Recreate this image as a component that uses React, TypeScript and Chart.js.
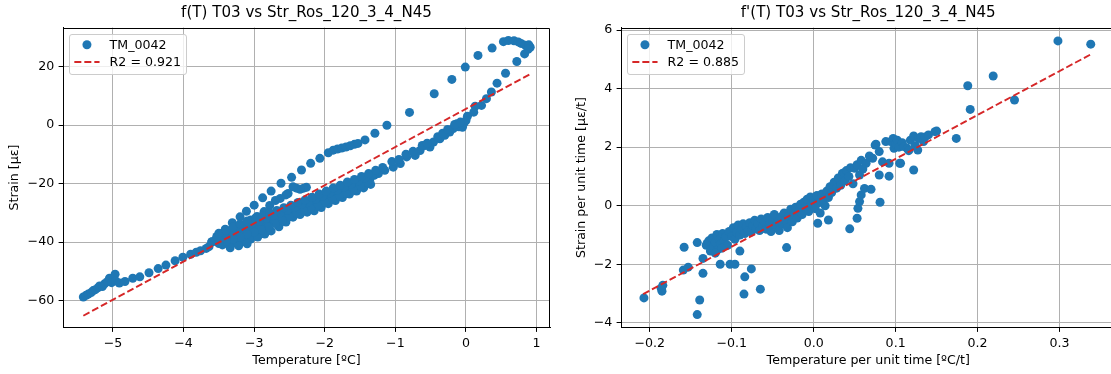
import React, { useEffect, useRef } from 'react';
import { Chart, registerables } from 'chart.js';

Chart.register(...registerables);

type Pt = [number, number];

// ---------------- Left panel data: Temperature [ºC] vs Strain [με] ----------------
const leftLowTail: Pt[] = [
  [-5.42, -58.8], [-5.38, -58.2], [-5.35, -57.8], [-5.31, -57.3], [-5.28, -56.6], [-5.25, -56.3],
  [-5.21, -55.6], [-5.19, -55.0], [-5.15, -55.2], [-5.12, -54.3], [-5.08, -53.6], [-5.05, -52.4],
  [-4.97, -51.0], [-5.02, -53.9], [-4.96, -53.3], [-4.91, -54.0], [-4.83, -53.5], [-4.72, -52.4],
  [-4.62, -51.9], [-4.49, -50.5], [-4.36, -49.1], [-4.25, -47.9], [-4.12, -46.4], [-4.01, -45.2],
  [-3.90, -44.2], [-3.82, -43.5], [-3.76, -43.0], [-3.68, -42.2], [-3.64, -41.6],
];
const leftOuterBranch: Pt[] = [
  [-3.60, -40.0], [-3.51, -38.2], [-3.41, -35.6], [-3.31, -33.4], [-3.20, -31.4], [-3.11, -29.5],
  [-3.00, -27.4], [-2.88, -24.9], [-2.76, -22.6], [-2.62, -19.9], [-2.47, -17.9], [-2.33, -15.4],
  [-2.20, -13.1], [-2.07, -11.4], [-1.95, -9.5], [-1.88, -8.6], [-1.82, -8.2], [-1.76, -7.9],
  [-1.70, -7.5], [-1.64, -7.1], [-1.58, -6.6], [-1.53, -6.3], [-1.43, -5.1], [-1.29, -2.8],
  [-1.12, -0.1], [-0.80, 4.3], [-0.45, 10.7], [-0.20, 15.6], [-0.01, 19.8], [0.17, 23.8],
  [0.37, 26.3], [0.53, 28.5], [0.60, 28.9], [0.68, 28.8], [0.74, 28.4], [0.78, 27.9],
  [0.84, 27.3], [0.89, 27.4], [0.91, 26.6], [0.88, 25.9], [0.83, 24.3], [0.72, 21.7],
];
const leftInnerBranch: Pt[] = [
  [-2.26, -21.3], [-2.30, -21.6], [-2.35, -22.0], [-2.40, -21.6], [-2.45, -21.1], [-2.52, -23.4],
  [-2.55, -23.9], [-2.63, -25.1], [-2.70, -25.8], [-2.78, -27.5], [-2.86, -29.6], [-2.96, -31.3],
  [-3.05, -32.5],
];
const leftReturnBand: Pt[] = [
  [0.56, 17.7], [0.44, 14.3], [0.36, 11.3], [0.29, 9.0], [0.22, 6.7], [0.13, 6.4], [0.11, 4.4],
  [0.02, 3.0], [0.00, 1.5], [-0.03, 0.6], [-0.05, -0.8], [-0.10, -0.6], [-0.13, 0.4], [-0.18, -1.2],
  [-0.23, -2.4], [-0.30, -3.5], [-0.37, -4.7], [-0.46, -5.8], [-0.51, -7.5], [-0.58, -7.0],
  [-0.65, -8.7], [-0.72, -10.4], [-0.84, -10.9], [-0.93, -13.2], [-1.03, -14.4], [-1.15, -15.5],
  [-1.24, -16.6], [-1.30, -17.2], [-1.36, -18.4], [-1.42, -18.6], [-1.48, -19.5], [-1.55, -20.2],
  [-1.60, -21.0], [-1.66, -21.3], [-1.71, -22.3], [-1.77, -22.8], [-1.83, -23.5], [-1.90, -23.6],
  [-1.95, -24.0], [-2.02, -25.0], [-2.08, -25.5], [-2.14, -26.2], [-2.19, -26.8], [-2.25, -27.3],
  [-2.31, -28.0], [-2.37, -28.6], [-2.42, -29.1], [-2.48, -29.6], [-2.54, -30.2], [-2.60, -30.7],
  [-2.66, -31.3], [-2.72, -31.9], [-2.78, -32.5], [-2.84, -33.1], [-2.89, -33.6], [-2.95, -34.1],
  [-3.01, -34.5], [-3.07, -35.0], [-3.13, -35.3], [-3.19, -36.0], [-3.25, -36.7], [-3.31, -37.1],
  [-3.37, -37.6], [-3.43, -38.3], [-3.49, -39.0], [-3.55, -39.4], [-3.60, -39.9],
];
const leftBandLower: Pt[] = [
  [-3.45, -41.0], [-3.36, -40.8], [-3.25, -40.4], [-3.15, -39.8], [-3.05, -39.0], [-2.95, -38.3],
  [-2.85, -37.3], [-2.76, -36.2], [-2.65, -34.8], [-2.55, -33.2], [-2.45, -31.5], [-2.35, -30.6],
  [-2.25, -29.8], [-2.15, -29.3], [-2.05, -28.2], [-1.95, -26.9], [-1.85, -25.8], [-1.75, -24.8],
  [-1.65, -23.6], [-1.55, -22.6], [-1.45, -21.5], [-1.35, -20.3], [-3.34, -42.0], [-3.22, -41.3],
  [-3.10, -40.6],
];
const leftBandMidLower: Pt[] = [
  [-1.40, -19.6], [-1.50, -20.9], [-1.60, -22.2], [-1.70, -23.4], [-1.80, -24.5], [-1.90, -25.4],
  [-2.00, -26.4], [-2.10, -27.6], [-2.20, -28.5], [-2.30, -29.3], [-2.40, -30.2], [-2.50, -31.4],
  [-2.60, -32.6], [-2.70, -33.7], [-2.80, -34.8], [-2.90, -35.8], [-3.00, -36.6], [-3.10, -37.4],
  [-3.20, -38.3], [-3.30, -39.0], [-3.40, -39.8], [-3.50, -40.5],
];
const leftBandMidUpper: Pt[] = [
  [-1.33, -17.0], [-1.43, -18.0], [-1.53, -19.2], [-1.63, -20.2], [-1.73, -21.3], [-1.83, -22.4],
  [-1.93, -23.2], [-2.03, -24.3], [-2.13, -25.4], [-2.23, -26.3], [-2.33, -27.2], [-2.43, -28.2],
  [-2.53, -29.1], [-2.63, -30.0], [-2.73, -30.9], [-2.83, -31.9], [-2.93, -32.9], [-3.03, -33.6],
  [-3.13, -34.4], [-3.23, -35.3], [-3.33, -36.2], [-3.43, -37.0], [-3.53, -38.1],
];
const leftBandUpper: Pt[] = [
  [-3.50, -37.0], [-3.40, -36.0], [-3.30, -34.9], [-3.20, -33.8], [-3.10, -32.8], [-2.98, -31.8],
  [-2.88, -31.0], [-2.78, -30.0], [-2.68, -29.2], [-2.58, -28.3], [-2.48, -27.4], [-2.38, -26.5],
  [-2.28, -25.6], [-2.18, -24.7], [-2.08, -23.6], [-1.98, -22.6], [-1.88, -21.5], [-1.78, -20.6],
  [-1.68, -19.5], [-1.58, -18.6], [-1.48, -17.6], [-1.38, -16.6], [-1.28, -15.5], [-1.18, -14.5],
  [-1.05, -12.5], [-0.95, -11.8], [-0.85, -10.0], [-0.75, -9.0], [-0.62, -7.0], [-0.55, -6.2],
  [-0.40, -4.0], [-0.33, -2.8], [-0.26, -1.5], [-0.16, 0.2], [-0.08, 1.0],
];
const leftFitTemperature = [-5.42, 0.91];
const leftFitStrain = [-65.2, 17.4];
const leftXTicks = [-5, -4, -3, -2, -1, 0, 1];
const leftYTicks = [-60, -40, -20, 0, 20];

// ---------------- Right panel data: rates ----------------
const rightOutliers: Pt[] = [
  [-0.207, -3.15], [-0.186, -2.82], [-0.185, -2.92], [-0.184, -2.72], [-0.158, -1.42], [-0.159, -2.20],
  [-0.153, -2.10], [-0.142, -1.26], [-0.139, -3.22], [-0.142, -3.72], [-0.135, -2.31], [-0.135, -1.80],
  [-0.130, -1.29], [-0.124, -1.48], [-0.114, -2.0], [-0.102, -2.0], [-0.096, -2.0], [-0.090, -1.55],
  [-0.084, -2.43], [-0.076, -2.16], [-0.085, -3.02], [-0.065, -2.85], [-0.033, -1.43], [0.005, -0.60],
  [0.018, -0.49], [0.044, -0.79], [0.053, -0.43], [0.054, -0.09], [0.056, 0.14], [0.058, 0.37],
  [0.062, 0.59], [0.070, 0.56], [0.081, 0.12], [0.080, 1.05], [0.092, 1.01], [0.105, 1.45],
  [0.122, 1.22], [0.150, 2.55], [0.174, 2.30], [0.188, 4.10], [0.191, 3.29], [0.219, 4.43],
  [0.245, 3.61], [0.298, 5.63], [0.338, 5.52],
];
const rightClusterA: Pt[] = [
  [-0.131, -1.35], [-0.128, -1.20], [-0.126, -1.55], [-0.124, -1.10], [-0.122, -1.40], [-0.120, -1.25],
  [-0.118, -0.98], [-0.117, -1.50], [-0.115, -1.15], [-0.113, -1.30], [-0.111, -0.95], [-0.109, -1.20],
  [-0.107, -1.05], [-0.105, -1.35], [-0.120, -1.62], [-0.112, -1.45],
];
const rightClusterB: Pt[] = [
  [-0.103, -0.88], [-0.100, -1.05], [-0.098, -0.75], [-0.096, -1.15], [-0.094, -0.90], [-0.092, -0.66],
  [-0.090, -1.00], [-0.088, -0.80], [-0.086, -0.62], [-0.084, -0.95], [-0.082, -0.72], [-0.080, -0.85],
  [-0.078, -0.58], [-0.076, -0.90], [-0.074, -0.68], [-0.072, -0.50], [-0.070, -0.78], [-0.068, -0.60],
  [-0.066, -0.85], [-0.064, -0.45], [-0.062, -0.70],
];
const rightClusterC: Pt[] = [
  [-0.060, -0.55], [-0.058, -0.80], [-0.056, -0.40], [-0.054, -0.65], [-0.052, -0.88], [-0.050, -0.48],
  [-0.048, -0.30], [-0.046, -0.70], [-0.044, -0.55], [-0.042, -0.85], [-0.040, -0.38], [-0.038, -0.62],
  [-0.036, -0.25], [-0.034, -0.50], [-0.032, -0.75], [-0.030, -0.35], [-0.028, -0.12], [-0.026, -0.55],
  [-0.024, -0.30], [-0.022, -0.05], [-0.020, -0.42],
];
const rightClusterD: Pt[] = [
  [-0.018, -0.18], [-0.016, 0.05], [-0.014, -0.30], [-0.012, 0.12], [-0.010, -0.08], [-0.008, 0.22],
  [-0.006, -0.20], [-0.004, 0.30], [-0.002, 0.05], [0.000, 0.18], [0.002, -0.10], [0.004, 0.35],
  [0.006, 0.10], [0.008, -0.25], [0.010, 0.40], [0.012, 0.20], [0.014, 0.00], [0.016, 0.50],
  [0.018, 0.28], [0.020, 0.65],
];
const rightClusterE: Pt[] = [
  [0.022, 0.45], [0.024, 0.71], [0.025, 0.80], [0.028, 0.60], [0.030, 0.95], [0.033, 0.70],
  [0.035, 1.10], [0.037, 1.13], [0.038, 0.85], [0.040, 1.20], [0.043, 1.00], [0.045, 1.30],
  [0.048, 0.75], [0.050, 1.28], [0.053, 1.40], [0.056, 1.05], [0.058, 1.55], [0.060, 1.25],
];
const rightClusterF: Pt[] = [
  [0.064, 1.45], [0.068, 1.70], [0.072, 1.62], [0.075, 2.07], [0.076, 2.10], [0.080, 1.85],
  [0.084, 1.50], [0.088, 2.19], [0.092, 1.45], [0.094, 2.19], [0.097, 2.30], [0.098, 1.96],
  [0.100, 2.10], [0.102, 2.24], [0.104, 2.00], [0.106, 1.45], [0.108, 2.15], [0.110, 2.02],
  [0.114, 1.96], [0.116, 1.88], [0.118, 2.24], [0.122, 2.38], [0.124, 2.05], [0.127, 1.90],
  [0.128, 2.30], [0.131, 2.36], [0.134, 2.19], [0.136, 2.35], [0.140, 2.42], [0.148, 2.53],
];
const rightFitRate = [-0.208, 0.338];
const rightFitStrainRate = [-3.02, 5.17];
const rightXTicks = [-0.2, -0.1, 0.0, 0.1, 0.2, 0.3];
const rightYTicks = [-4, -2, 0, 2, 4, 6];

// ---------------- styling ----------------
const FONT_FAMILY = "'DejaVu Sans', sans-serif";
const BLUE = '#1f77b4';
const RED = '#d62728';
const GRID = '#b0b0b0';
const FS_SMALL = 12.6;
const FS_TITLE = 15.1;
const H = 374;
const DOT_R = 4.5;

function fmtTick(v: number, decimals: number): string {
  const s = Math.abs(v).toFixed(decimals);
  return (v < -1e-9 ? '\u2212' : '') + s;
}

interface PanelSpec {
  title: string;
  xLabel: string;
  yLabel: string;
  points: Pt[];
  fitX: number[];
  fitY: number[];
  seriesName: string;
  fitName: string;
  xTicks: number[];
  yTicks: number[];
  xDecimals: number;
  yDecimals: number;
  xMin: number;
  xMax: number;
  yMin: number;
  yMax: number;
  canvasLeft: number;
  canvasWidth: number;
  yAxisWidth: number;
  yTitlePad: number;
  padRight: number;
}

const panels: PanelSpec[] = [
  {
    title: 'f(T) T03 vs Str_Ros_120_3_4_N45',
    xLabel: 'Temperature [ºC]',
    yLabel: 'Strain [με]',
    points: [
      ...leftLowTail, ...leftOuterBranch, ...leftInnerBranch, ...leftReturnBand,
      ...leftBandLower, ...leftBandMidLower, ...leftBandMidUpper, ...leftBandUpper,
    ],
    fitX: leftFitTemperature,
    fitY: leftFitStrain,
    seriesName: 'TM_0042',
    fitName: 'R2 = 0.921',
    xTicks: leftXTicks,
    yTicks: leftYTicks,
    xDecimals: 0,
    yDecimals: 0,
    xMin: -5.708,
    xMax: 1.19,
    yMin: -69.23,
    yMax: 33.33,
    canvasLeft: 0,
    canvasWidth: 555,
    yAxisWidth: 63,
    yTitlePad: 6.7,
    padRight: 5,
  },
  {
    title: "f'(T) T03 vs Str_Ros_120_3_4_N45",
    xLabel: 'Temperature per unit time [ºC/t]',
    yLabel: 'Strain per unit time [με/t]',
    points: [
      ...rightOutliers, ...rightClusterA, ...rightClusterB, ...rightClusterC,
      ...rightClusterD, ...rightClusterE, ...rightClusterF,
    ],
    fitX: rightFitRate,
    fitY: rightFitStrainRate,
    seriesName: 'TM_0042',
    fitName: 'R2 = 0.885',
    xTicks: rightXTicks,
    yTicks: rightYTicks,
    xDecimals: 1,
    yDecimals: 0,
    xMin: -0.235,
    xMax: 0.3682,
    yMin: -4.161,
    yMax: 6.088,
    canvasLeft: 555,
    canvasWidth: 565,
    yAxisWidth: 66,
    yTitlePad: 19.0,
    padRight: 0,
  },
];

function makeSpinePlugin() {
  return {
    id: 'mplSpines',
    afterDatasetsDraw(chart: any) {
      const { ctx, chartArea: a } = chart;
      ctx.save();
      ctx.strokeStyle = '#000';
      ctx.lineWidth = 1;
      const t = Math.round(a.top) + 0.5;
      const r = Math.round(a.right) - 0.5;
      const l = Math.round(a.left) + 0.5;
      const b = Math.round(a.bottom) - 0.5;
      ctx.beginPath();
      ctx.moveTo(l, t);
      ctx.lineTo(r, t);
      ctx.lineTo(r, b);
      ctx.stroke();
      ctx.restore();
    },
  };
}

function makeLegendPlugin(spec: PanelSpec) {
  return {
    id: 'mplLegend',
    afterDraw(chart: any) {
      const { ctx, chartArea: a } = chart;
      const fs = FS_SMALL;
      const labels = [spec.seriesName, spec.fitName];
      ctx.save();
      ctx.font = `${fs}px ${FONT_FAMILY}`;
      const textW = Math.max(...labels.map((l) => ctx.measureText(l).width));
      const pad = 0.4 * fs;
      const handleLen = 2 * fs;
      const textPad = 0.8 * fs;
      const x0 = Math.round(a.left + 0.5 * fs) + 0.5;
      const y0 = Math.round(a.top + 0.5 * fs) + 0.5;
      const w = Math.round(pad + handleLen + textPad + textW + pad);
      const h = 40;
      const rr = 2.5;
      ctx.beginPath();
      ctx.moveTo(x0 + rr, y0);
      ctx.lineTo(x0 + w - rr, y0);
      ctx.arcTo(x0 + w, y0, x0 + w, y0 + rr, rr);
      ctx.lineTo(x0 + w, y0 + h - rr);
      ctx.arcTo(x0 + w, y0 + h, x0 + w - rr, y0 + h, rr);
      ctx.lineTo(x0 + rr, y0 + h);
      ctx.arcTo(x0, y0 + h, x0, y0 + h - rr, rr);
      ctx.lineTo(x0, y0 + rr);
      ctx.arcTo(x0, y0, x0 + rr, y0, rr);
      ctx.closePath();
      ctx.fillStyle = 'rgba(255,255,255,0.8)';
      ctx.fill();
      ctx.strokeStyle = '#cccccc';
      ctx.lineWidth = 1;
      ctx.stroke();

      const row1 = a.top + 17.2;
      const row2 = a.top + 34.5;
      const hx = a.left + 0.5 * fs + pad;
      // marker
      ctx.beginPath();
      ctx.arc(hx + handleLen / 2, row1, DOT_R, 0, Math.PI * 2);
      ctx.fillStyle = BLUE;
      ctx.fill();
      // dashed line
      ctx.beginPath();
      ctx.setLineDash([7, 3]);
      ctx.strokeStyle = RED;
      ctx.lineWidth = 1.9;
      ctx.moveTo(hx, row2);
      ctx.lineTo(hx + handleLen, row2);
      ctx.stroke();
      ctx.setLineDash([]);
      // text
      ctx.fillStyle = '#000';
      ctx.textAlign = 'left';
      ctx.textBaseline = 'middle';
      const tx = hx + handleLen + textPad;
      ctx.fillText(labels[0], tx, row1 + 0.5);
      ctx.fillText(labels[1], tx, row2 + 0.5);
      ctx.restore();
    },
  };
}

function Panel({ spec }: { spec: PanelSpec }) {
  const ref = useRef<HTMLCanvasElement | null>(null);
  useEffect(() => {
    const canvas = ref.current;
    if (!canvas) return;
    const tickFont = { family: FONT_FAMILY, size: FS_SMALL };
    const chart = new Chart(canvas, {
      type: 'scatter',
      data: {
        datasets: [
          {
            type: 'line',
            label: spec.fitName,
            data: spec.fitX.map((x, i) => ({ x, y: spec.fitY[i] })),
            borderColor: RED,
            borderWidth: 1.9,
            borderDash: [7, 3],
            pointRadius: 0,
            fill: false,
            showLine: true,
            tension: 0,
            order: 0,
          } as any,
          {
            type: 'scatter',
            label: spec.seriesName,
            data: spec.points.map(([x, y]) => ({ x, y })),
            backgroundColor: BLUE,
            borderColor: BLUE,
            borderWidth: 0,
            pointRadius: DOT_R,
            pointHoverRadius: DOT_R,
            order: 1,
          } as any,
        ],
      },
      options: {
        responsive: false,
        animation: false,
        devicePixelRatio: 1,
        events: [],
        layout: { padding: { left: 0, right: spec.padRight, top: 0, bottom: 0 } },
        plugins: {
          legend: { display: false },
          tooltip: { enabled: false },
          title: {
            display: true,
            text: spec.title,
            fullSize: false,
            color: '#000',
            font: { family: FONT_FAMILY, size: FS_TITLE, weight: 'normal', lineHeight: 1.2 },
            padding: { top: 4.2, bottom: 5.2 },
          },
        },
        scales: {
          x: {
            type: 'linear',
            position: 'bottom',
            min: spec.xMin,
            max: spec.xMax,
            afterBuildTicks: (s: any) => {
              s.ticks = spec.xTicks.map((v) => ({ value: v }));
            },
            afterFit: (s: any) => {
              s.height = 46.5;
            },
            ticks: {
              callback: (v: any) => fmtTick(Number(v), spec.xDecimals),
              color: '#000',
              font: tickFont,
              padding: 4.4,
              autoSkip: false,
              maxRotation: 0,
              minRotation: 0,
              includeBounds: false,
            },
            grid: { color: GRID, lineWidth: 1, tickLength: 4.4, tickColor: '#000', tickWidth: 1 },
            border: { display: true, color: '#000', width: 1 },
            title: {
              display: true,
              text: spec.xLabel,
              color: '#000',
              font: tickFont,
              padding: { top: 0, bottom: 5.4 },
            },
          },
          y: {
            type: 'linear',
            position: 'left',
            min: spec.yMin,
            max: spec.yMax,
            afterBuildTicks: (s: any) => {
              s.ticks = spec.yTicks.map((v) => ({ value: v }));
            },
            afterFit: (s: any) => {
              s.width = spec.yAxisWidth;
            },
            ticks: {
              callback: (v: any) => fmtTick(Number(v), spec.yDecimals),
              color: '#000',
              font: tickFont,
              padding: 4.4,
              autoSkip: false,
              includeBounds: false,
            },
            grid: { color: GRID, lineWidth: 1, tickLength: 4.4, tickColor: '#000', tickWidth: 1 },
            border: { display: true, color: '#000', width: 1 },
            title: {
              display: true,
              text: spec.yLabel,
              color: '#000',
              font: tickFont,
              padding: { top: spec.yTitlePad, bottom: 0 },
            },
          },
        },
      } as any,
      plugins: [makeSpinePlugin(), makeLegendPlugin(spec)],
    });
    return () => {
      chart.destroy();
    };
  }, [spec]);

  return (
    <canvas
      ref={ref}
      width={spec.canvasWidth}
      height={H}
      style={{ position: 'absolute', left: spec.canvasLeft, top: 0, width: spec.canvasWidth, height: H }}
    />
  );
}

export default function App() {
  return (
    <div
      style={{
        position: 'absolute',
        left: 0,
        top: 0,
        width: 1111,
        height: H,
        overflow: 'hidden',
        background: '#ffffff',
      }}
    >
      {panels.map((p) => (
        <Panel key={p.title} spec={p} />
      ))}
    </div>
  );
}
